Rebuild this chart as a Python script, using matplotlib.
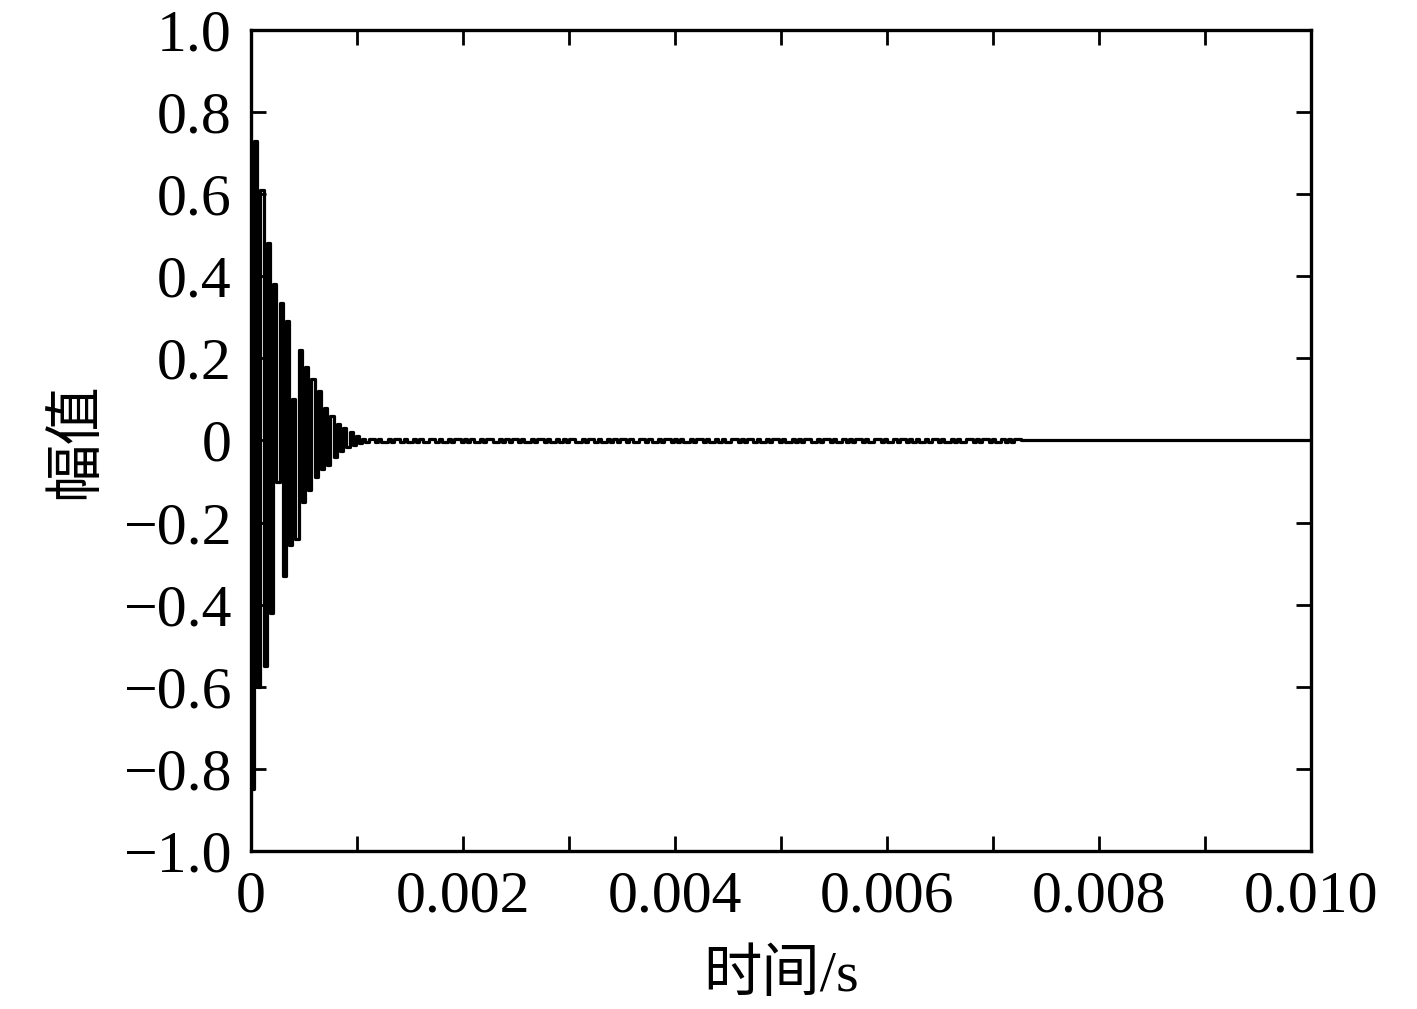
import numpy as np
import matplotlib
matplotlib.use('Agg')
import matplotlib.pyplot as plt

# sample period of the recorded signal (s)
dt = 3e-5
t_end = 0.010

# decaying oscillation, one value per sample
burst = [-0.85, 0.73, -0.60, 0.61, -0.55, 0.48, -0.42, 0.38, -0.10, 0.335,
         -0.33, 0.29, -0.255, 0.10, -0.24, 0.22, -0.15, 0.18, -0.12, 0.15,
         -0.09, 0.12, -0.07, 0.08, -0.06, 0.06, -0.04, 0.04, -0.025, 0.03,
         -0.015, 0.02, -0.01, 0.012, -0.006]

# small residual ripple after the burst (sign of each sample)
ripple_signs = ("+-++-+--+-++-+--+-+--++-+--+-++-+-+--+-++--+-+-++-+--+-++-+--"
                "+-+-++--+-++-+--+-+-++-+--++-+--+-++-+-+--+-++-+--+-+--++-+-++"
                "-+--+-++-+--+-+-++--+-++-+--+-+-++-+--++-+--+-++-+-+--+-++-+--"
                "+-+--++-+-++-+--+-+-++-+")
ripple_amp = 0.0035
ripple_len = 207

yticks = [-1.0, -0.8, -0.6, -0.4, -0.2, 0.0, 0.2, 0.4, 0.6, 0.8, 1.0]
ytick_labels = ['\u22121.0', '\u22120.8', '\u22120.6', '\u22120.4', '\u22120.2',
                '0', '0.2', '0.4', '0.6', '0.8', '1.0']
xticks = [0, 0.002, 0.004, 0.006, 0.008, 0.010]
xtick_labels = ['0', '0.002', '0.004', '0.006', '0.008', '0.010']
xminor = [0.001, 0.003, 0.005, 0.007, 0.009]

ripple = [ripple_amp if c == '+' else -ripple_amp for c in ripple_signs[:ripple_len]]
values = burst + ripple
t = np.arange(0, t_end + dt / 2, dt)
y = np.zeros(len(t))
y[:len(values)] = values

plt.rcParams['font.family'] = ['Liberation Serif', 'Noto Sans CJK SC']
plt.rcParams['axes.unicode_minus'] = True

fig = plt.figure(figsize=(14.17, 10.09), dpi=100)
ax = fig.add_axes([0.1771, 0.1566, 0.7481, 0.8137])
ax.plot(t, y, color='black', linewidth=2.3, drawstyle='steps-post')

ax.set_xlim(0, t_end)
ax.set_ylim(-1.0, 1.0)
ax.set_xticks(xticks)
ax.set_xticklabels(xtick_labels)
ax.set_xticks(xminor, minor=True)
ax.set_yticks(yticks)
ax.set_yticklabels(ytick_labels)

for s in ax.spines.values():
    s.set_linewidth(2.4)
ax.tick_params(which='both', direction='in', top=True, right=True,
               length=11, width=2, labelsize=43, pad=14)

lab_font = ['Liberation Serif', 'Noto Sans CJK SC']
ax.set_xlabel('时间/s', fontsize=42, family=lab_font, labelpad=18)
ax.set_ylabel('幅值', fontsize=42, family=lab_font, labelpad=14)

plt.savefig('out.png', dpi=100)
